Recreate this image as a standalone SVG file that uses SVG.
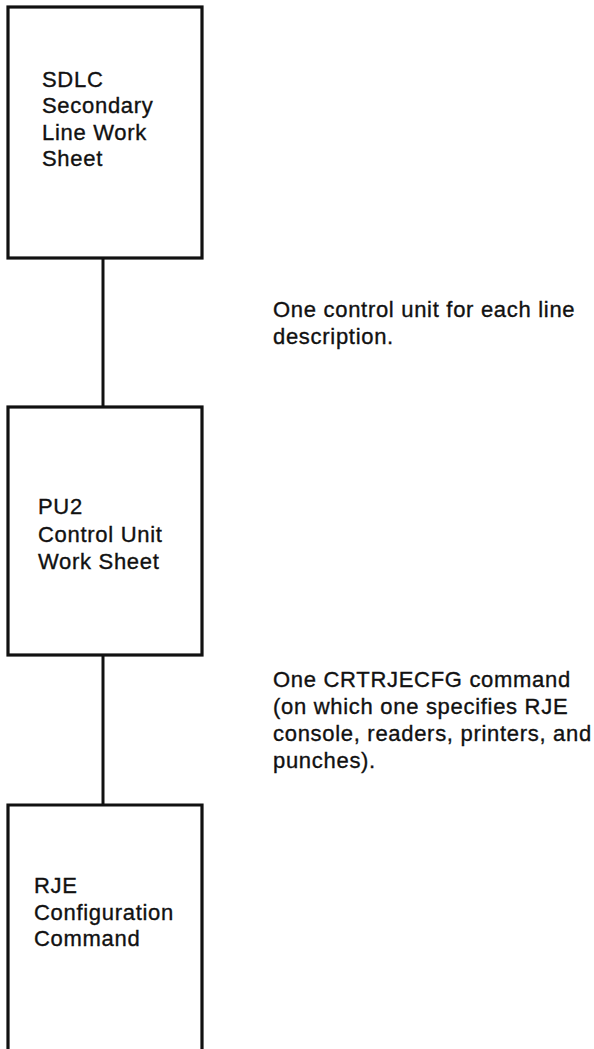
<svg xmlns="http://www.w3.org/2000/svg" width="594" height="1049" viewBox="0 0 594 1049">
<style>
.box{fill:#fff;stroke:#111;stroke-width:3.2}
.conn{stroke:#111;stroke-width:3;fill:none}
text{font-family:"Liberation Sans",Arial,sans-serif;font-size:22px;letter-spacing:0.7px;fill:#111;stroke:#111;stroke-width:0.35}
</style>
<rect width="594" height="1049" fill="#fff"/>
<g id="connectors">
<line class="conn" x1="103" y1="258" x2="103" y2="407"/>
<line class="conn" x1="103" y1="655" x2="103" y2="805"/>
</g>
<g id="node-sdlc">
<rect class="box" x="8" y="7" width="194" height="251"/>
<text x="42" y="87">SDLC</text>
<text x="42" y="113">Secondary</text>
<text x="42" y="140">Line Work</text>
<text x="42" y="166">Sheet</text>
</g>
<g id="node-pu2">
<rect class="box" x="8" y="407" width="194" height="248"/>
<text x="38" y="514">PU2</text>
<text x="38" y="542">Control Unit</text>
<text x="38" y="569">Work Sheet</text>
</g>
<g id="node-rje">
<path class="box" d="M8 1052 V805 H202 V1052"/>
<text x="34" y="893">RJE</text>
<text x="34" y="920">Configuration</text>
<text x="34" y="946">Command</text>
</g>
<g id="note-1">
<text x="273" y="317">One control unit for each line</text>
<text x="273" y="344">description.</text>
</g>
<g id="note-2">
<text x="273" y="687">One CRTRJECFG command</text>
<text x="273" y="714">(on which one specifies RJE</text>
<text x="273" y="741">console, readers, printers, and</text>
<text x="273" y="768">punches).</text>
</g>
</svg>
